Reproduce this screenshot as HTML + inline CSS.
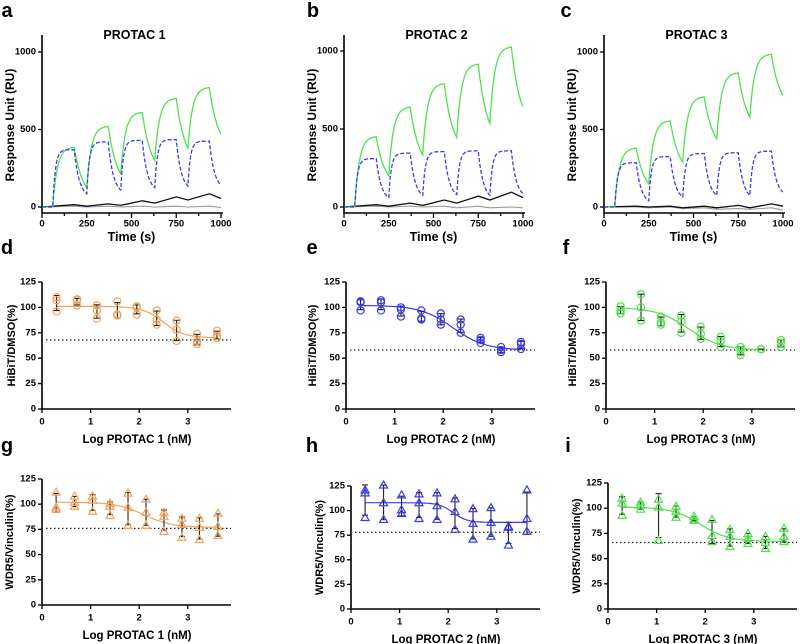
<!DOCTYPE html>
<html><head><meta charset="utf-8"><style>
html,body{margin:0;padding:0;background:#fff;}
svg{display:block;font-family:"Liberation Sans",Arial,sans-serif;font-weight:bold;}
</style></head><body>
<svg id="fig" width="800" height="644" viewBox="0 0 800 644"></svg>
<script>
// ---- Sensorgram data (a,b,c) ----
const cycleStart = [60, 250, 440, 630, 815];
const cycleEnd = [180, 370, 560, 750, 935];
const timeTicks = [0, 250, 500, 750, 1000];
const ruTicks = [0, 500, 1000];
const baseTimes = [0, 180, 250, 370, 440, 560, 630, 750, 815, 935, 1000];
const aGreenPeaks = [385, 520, 610, 700, 770];
const aGreenTroughs = [125, 215, 300, 380, 470];
const aBluePeaks = [370, 420, 430, 435, 425];
const aBlueTroughs = [85, 110, 125, 135, 140];
const aBlack = [0, 15, 5, 20, 10, 40, 25, 65, 45, 85, 55];
const aGray = [0, 5, 0, 5, 0, 5, 0, 5, 0, 5, -3];
const bGreenPeaks = [450, 640, 790, 915, 1025];
const bGreenTroughs = [200, 335, 445, 535, 640];
const bBluePeaks = [310, 345, 355, 360, 360];
const bBlueTroughs = [60, 75, 80, 75, 85];
const bBlack = [0, 15, 5, 25, 10, 45, 25, 70, 45, 95, 60];
const bGray = [0, 5, 0, 5, 0, 5, -5, 5, -5, 0, -5];
const cGreenPeaks = [380, 555, 710, 865, 985];
const cGreenTroughs = [150, 290, 440, 580, 720];
const cBluePeaks = [285, 325, 345, 350, 360];
const cBlueTroughs = [40, 65, 75, 75, 95];
const cBlack = [0, 5, 0, 5, -5, 5, -5, 10, -5, 20, 5];
const cGray = [0, 0, -5, 0, -10, -5, -15, -10, -15, -5, -20];

// ---- Dose response data ----
const doseTicks = [0, 1, 2, 3];
const pctTicks = [0, 25, 50, 75, 100, 125];
const logDoseDEF = [0.3, 0.72, 1.13, 1.55, 1.95, 2.36, 2.77, 3.19, 3.6];
const logDoseGHI = [0.29, 0.67, 1.04, 1.4, 1.77, 2.14, 2.51, 2.88, 3.24, 3.62];
const dReps = [[96,107,110],[102,107,108],[89,97,102],[92,93,106],[93,100,101],[83,88,97],[67,78,87],[64,67,74],[70,72,77]];
const eReps = [[97,105,106],[97,105,107],[91,98,100],[88,89,97],[83,88,94],[75,83,88],[65,68,70],[56,58,61],[59,64,66]];
const fReps = [[94,97,101],[87,100,113],[83,85,91],[75,86,92],[69,74,81],[61,67,71],[53,58,61],[59,59,59],[61,65,68]];
const gReps = [[95,97,112],[98,102,108],[93,104,108],[89,98,101],[79,97,111],[79,92,105],[73,88,92],[67,80,86],[65,77,86],[69,78,91]];
const hReps = [[93,118,121],[91,108,126],[97,101,116],[92,108,117],[91,105,118],[81,99,112],[71,87,102],[74,88,103],[65,83,84],[79,92,121]];
const iReps = [[93,105,110],[99,103,106],[68,101,109],[91,97,102],[88,89,92],[67,73,89],[62,72,79],[65,70,75],[60,66,72],[67,72,80]];
// fit params: top, bottom, logEC50, hill
const dFit = [101, 70, 2.5, 2.0];
const eFit = [102, 58, 2.2, 1.3];
const fFit = [100, 58, 1.7, 1.3];
const gFit = [102, 77, 2.1, 1.5];
const hFit = [108, 88, 2.1, 3.0];
const iFit = [101, 67, 1.9, 1.5];
const dRef = [68]; const eRef = [58]; const fRef = [58];
const gRef = [76]; const hRef = [78]; const iRef = [66];

const NS = "http://www.w3.org/2000/svg";
const svg = document.getElementById("fig");
function el(tag, attrs, parent, text) {
  const e = document.createElementNS(NS, tag);
  for (const k in attrs) e.setAttribute(k, attrs[k]);
  if (text !== undefined) e.textContent = text;
  (parent || svg).appendChild(e);
  return e;
}
function txt(x, y, s, size, anchor, parent, name, rot) {
  const t = el("text", {x: x, y: y, "font-size": size, "text-anchor": anchor || "middle", "dominant-baseline": "central"}, parent, s);
  if (rot) t.setAttribute("transform", "rotate(-90 " + x + " " + y + ")");
  
  
  return t;
}
const ORANGE = "#f5a35c", BLUE = "#3b3bf0", GREEN = "#4fe24a";

// ---------------- Sensorgram panels ----------------
function sensor(cfg) {
  const g = el("g", {});
  
  
  const X = t => cfg.x0 + (t / 1000) * (cfg.x1 - cfg.x0);
  const Y = v => cfg.y0 - v * (cfg.y0 - cfg.y1000) / 1000;
  const ax = el("path", {d: `M${cfg.x0},35 V213 H${cfg.x1 + 2}`, stroke: "#000", "stroke-width": 1.6, fill: "none"}, g);
  
  
  ruTicks.forEach(v => {
    el("line", {x1: cfg.x0 - 4, x2: cfg.x0, y1: Y(v), y2: Y(v), stroke: "#000", "stroke-width": 1.3}, g);
    txt(cfg.x0 - 6, Y(v), String(v), 9.5, "end", g, "y-tick-label");
  });
  for (let t = 0; t <= 1000; t += 125) {
    el("line", {x1: X(t), x2: X(t), y1: 213, y2: t % 250 === 0 ? 218 : 216, stroke: "#000", "stroke-width": 1.3}, g);
  }
  timeTicks.forEach(t => txt(X(t), 224, String(t), 9.5, "middle", g, "x-tick-label"));
  txt((cfg.x0 + cfg.x1) / 2, 237, "Time (s)", 12.5, "middle", g, "x-axis-title");
  txt(cfg.x0 - 32, 125, "Response Unit (RU)", 12, "middle", g, "y-axis-title", true);
  txt((cfg.x0 + cfg.x1) / 2 + 3, 35, cfg.title, 12.5, "middle", g, "panel-title");
  function kin(peaks, troughs, ka, kd) {
    let pts = [[0, 0], [cycleStart[0], 0]];
    let s = 0;
    for (let i = 0; i < peaks.length; i++) {
      const T = cycleEnd[i] - cycleStart[i];
      for (let dt = 0; dt <= T; dt += 2) {
        const f = (1 - Math.exp(-ka * dt)) / (1 - Math.exp(-ka * T));
        pts.push([cycleStart[i] + dt, s + (peaks[i] - s) * f]);
      }
      const nx = i + 1 < peaks.length ? cycleStart[i + 1] : 1000;
      const D = nx - cycleEnd[i];
      for (let dt = 0; dt <= D; dt += 2) {
        const f = (Math.exp(-kd * dt) - Math.exp(-kd * D)) / (1 - Math.exp(-kd * D));
        pts.push([cycleEnd[i] + dt, troughs[i] + (peaks[i] - troughs[i]) * f]);
      }
      s = troughs[i];
    }
    return pts.map((p, j) => (j ? "L" : "M") + X(p[0]).toFixed(1) + "," + Y(p[1]).toFixed(1)).join("");
  }
  function lin(vals) {
    return vals.map((v, j) => (j ? "L" : "M") + X(baseTimes[j]).toFixed(1) + "," + Y(v).toFixed(1)).join("");
  }
  const gr = el("path", {d: lin(cfg.gray), stroke: "#999", "stroke-width": 1.1, fill: "none"}, g);
  
  
  const bk = el("path", {d: lin(cfg.black), stroke: "#111", "stroke-width": 1.3, fill: "none"}, g);
  
  
  const gn = el("path", {d: kin(cfg.gP, cfg.gT, 0.04, 0.02), stroke: GREEN, "stroke-width": 1.3, fill: "none"}, g);
  
  
  const bl = el("path", {d: kin(cfg.bP, cfg.bT, 0.07, 0.035), stroke: BLUE, "stroke-width": 1.3, fill: "none", "stroke-dasharray": "4,2"}, g);
  
  
}
sensor({name: "panel-a", title: "PROTAC 1", x0: 42, x1: 221, y0: 207, y1000: 52, gP: aGreenPeaks, gT: aGreenTroughs, bP: aBluePeaks, bT: aBlueTroughs, black: aBlack, gray: aGray});
sensor({name: "panel-b", title: "PROTAC 2", x0: 344, x1: 523, y0: 207, y1000: 51, gP: bGreenPeaks, gT: bGreenTroughs, bP: bBluePeaks, bT: bBlueTroughs, black: bBlack, gray: bGray});
sensor({name: "panel-c", title: "PROTAC 3", x0: 604, x1: 783, y0: 207, y1000: 52, gP: cGreenPeaks, gT: cGreenTroughs, bP: cBluePeaks, bT: cBlueTroughs, black: cBlack, gray: cGray});

// ---------------- Dose-response panels ----------------
function dose(cfg) {
  const g = el("g", {});
  
  
  const X = v => cfg.x0 + v * 48.6;
  const Y = v => cfg.y0 - v * (cfg.y0 - cfg.y125) / 125;
  const xEnd = cfg.x0 + 189;
  const ax = el("path", {d: `M${cfg.x0},${cfg.y125} V${cfg.y0} H${xEnd}`, stroke: "#000", "stroke-width": 1.6, fill: "none"}, g);
  
  
  pctTicks.forEach(v => {
    el("line", {x1: cfg.x0 - 4, x2: cfg.x0, y1: Y(v), y2: Y(v), stroke: "#000", "stroke-width": 1.3}, g);
    txt(cfg.x0 - 6, Y(v), String(v), 9.5, "end", g, "y-tick-label");
  });
  doseTicks.forEach(v => {
    el("line", {x1: X(v), x2: X(v), y1: cfg.y0, y2: cfg.y0 + 4, stroke: "#000", "stroke-width": 1.3}, g);
    txt(X(v), cfg.y0 + 13, String(v), 9.5, "middle", g, "x-tick-label");
  });
  txt(cfg.x0 + 95, cfg.y0 + 31, cfg.xlabel, 11.5, "middle", g, "x-axis-title");
  txt(cfg.x0 - cfg.yoff, (cfg.y0 + cfg.y125) / 2, cfg.ylabel, 11, "middle", g, "y-axis-title", true);
  const rl = el("line", {x1: cfg.x0 + 4, x2: xEnd, y1: Y(cfg.ref[0]), y2: Y(cfg.ref[0]), stroke: "#222", "stroke-width": 1.2, "stroke-dasharray": "1.5,2.5"}, g);
  
  
  const [top, bot, ec, h] = cfg.fit;
  let d = "";
  for (let x = cfg.xs[0]; x <= cfg.curveEnd + 1e-6; x += 0.02) {
    const v = bot + (top - bot) / (1 + Math.pow(10, (x - ec) * h));
    d += (d ? "L" : "M") + X(x).toFixed(1) + "," + Y(v).toFixed(1);
  }
  const fc = el("path", {d: d, stroke: cfg.color, "stroke-width": 1.2, fill: "none"}, g);
  
  
  cfg.reps.forEach((r, i) => {
    const x = X(cfg.xs[i]);
    const m = r.reduce((a, b) => a + b, 0) / r.length;
    const sd = Math.sqrt(r.reduce((a, b) => a + (b - m) * (b - m), 0) / (r.length - 1));
    const eb = el("path", {d: `M${x},${Y(m + sd)} V${Y(m - sd)} M${x - 3},${Y(m + sd)} H${x + 3} M${x - 3},${Y(m - sd)} H${x + 3}`, stroke: "#222", "stroke-width": 1.1, fill: "none"}, g);
    
    
    r.forEach(v => {
      let mk;
      if (cfg.marker === "circle") {
        mk = el("circle", {cx: x, cy: Y(v), r: 3.6, fill: "none", stroke: cfg.color, "stroke-width": 1.2}, g);
      } else {
        const y = Y(v);
        mk = el("path", {d: `M${x},${y - 4} L${x + 4},${y + 3} L${x - 4},${y + 3} Z`, fill: "none", stroke: cfg.color, "stroke-width": 1.2}, g);
      }
      
      
    });
  });
}
dose({name: "panel-d", x0: 42, y0: 409, y125: 282, xs: logDoseDEF, reps: dReps, fit: dFit, ref: dRef, color: ORANGE, marker: "circle", curveEnd: 3.6, xlabel: "Log PROTAC 1 (nM)", ylabel: "HiBiT/DMSO(%)", yoff: 30});
dose({name: "panel-e", x0: 346, y0: 409, y125: 282, xs: logDoseDEF, reps: eReps, fit: eFit, ref: eRef, color: BLUE, marker: "circle", curveEnd: 3.6, xlabel: "Log PROTAC 2 (nM)", ylabel: "HiBiT/DMSO(%)", yoff: 33});
dose({name: "panel-f", x0: 606, y0: 409, y125: 282, xs: logDoseDEF, reps: fReps, fit: fFit, ref: fRef, color: GREEN, marker: "circle", curveEnd: 3.2, xlabel: "Log PROTAC 3 (nM)", ylabel: "HiBiT/DMSO(%)", yoff: 33});
dose({name: "panel-g", x0: 42, y0: 605, y125: 479, xs: logDoseGHI, reps: gReps, fit: gFit, ref: gRef, color: ORANGE, marker: "tri", curveEnd: 3.62, xlabel: "Log PROTAC 1 (nM)", ylabel: "WDR5/Vinculin(%)", yoff: 32});
dose({name: "panel-h", x0: 351, y0: 609, y125: 486, xs: logDoseGHI, reps: hReps, fit: hFit, ref: hRef, color: BLUE, marker: "tri", curveEnd: 3.62, xlabel: "Log PROTAC 2 (nM)", ylabel: "WDR5/Vinculin(%)", yoff: 31});
dose({name: "panel-i", x0: 608, y0: 609, y125: 483, xs: logDoseGHI, reps: iReps, fit: iFit, ref: iRef, color: GREEN, marker: "tri", curveEnd: 3.62, xlabel: "Log PROTAC 3 (nM)", ylabel: "WDR5/Vinculin(%)", yoff: 31});

[["a", 7, 11], ["b", 313, 11], ["c", 566, 11], ["d", 7, 248], ["e", 312, 248], ["f", 566, 248], ["g", 7, 446], ["h", 312, 446], ["i", 568, 446]].forEach(p => {
  txt(p[1], p[2], p[0], 20, "middle", svg, "panel-letter-" + p[0]);
});
</script>
</body></html>
